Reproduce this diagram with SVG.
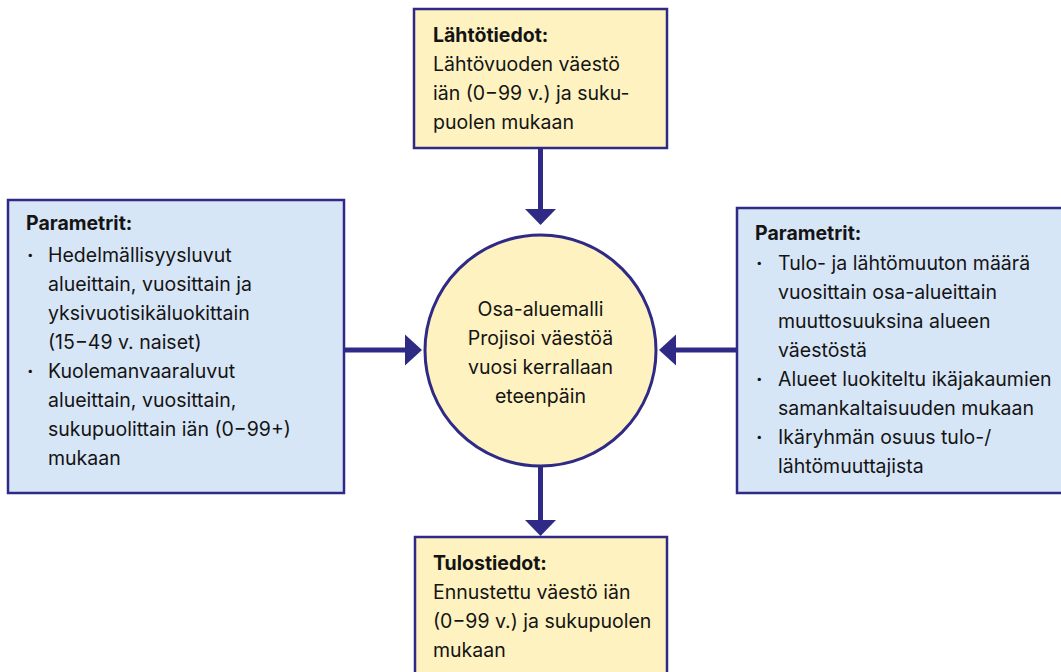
<svg xmlns="http://www.w3.org/2000/svg" width="1061" height="672" viewBox="0 0 1061 672">
<style>
.y{fill:#fdf2c0;stroke:#2f2a85;stroke-width:2.5}
.b{fill:#d7e6f7;stroke:#2f2a85;stroke-width:2.5}
.c{fill:#fdf2c0;stroke:#2f2a85;stroke-width:3}
text{font-family:Inter,"Liberation Sans",sans-serif;font-size:19.5px;fill:#141414}
.h{font-weight:700}
.d{font-weight:700}
.m{text-anchor:middle}
.ln{stroke:#2f2a85;stroke-width:5;fill:none}
.ah{fill:#2f2a85}
</style>
<rect width="1061" height="672" fill="#ffffff"/>
<g id="connectors">
<line class="ln" x1="540.5" y1="148" x2="540.5" y2="212"/>
<polygon class="ah" points="525,209 556,209 540.5,225"/>
<line class="ln" x1="540.5" y1="466" x2="540.5" y2="523"/>
<polygon class="ah" points="525,520 556,520 540.5,536"/>
<line class="ln" x1="344" y1="350" x2="408" y2="350"/>
<polygon class="ah" points="405,334.5 405,365.5 422,350"/>
<line class="ln" x1="737" y1="350" x2="673" y2="350"/>
<polygon class="ah" points="676,334.5 676,365.5 659,350"/>
</g>
<g id="top">
<rect class="y" x="414" y="9" width="253" height="139"/>
<text class="h" x="433" y="42">Lähtötiedot:</text>
<text x="433" y="71">Lähtövuoden väestö</text>
<text x="433" y="100">iän (0−99 v.) ja suku-</text>
<text x="433" y="129">puolen mukaan</text>
</g>
<g id="center">
<circle class="c" cx="540.5" cy="350.5" r="115.5"/>
<text class="m" x="540.5" y="316">Osa-aluemalli</text>
<text class="m" x="540.5" y="345">Projisoi väestöä</text>
<text class="m" x="540.5" y="374">vuosi kerrallaan</text>
<text class="m" x="540.5" y="403">eteenpäin</text>
</g>
<g id="left">
<rect class="b" x="8" y="200" width="336" height="293"/>
<text class="h" x="26" y="230">Parametrit:</text>
<text class="d" x="27" y="262">·</text>
<text x="48" y="262">Hedelmällisyysluvut</text>
<text x="48" y="291">alueittain, vuosittain ja</text>
<text x="48" y="320">yksivuotisikäluokittain</text>
<text x="48" y="349">(15−49 v. naiset)</text>
<text class="d" x="27" y="378">·</text>
<text x="48" y="378">Kuolemanvaaraluvut</text>
<text x="48" y="407">alueittain, vuosittain,</text>
<text x="48" y="436">sukupuolittain iän (0−99+)</text>
<text x="48" y="465">mukaan</text>
</g>
<g id="right">
<rect class="b" x="737" y="208" width="330" height="285"/>
<text class="h" x="755" y="240">Parametrit:</text>
<text class="d" x="756" y="270">·</text>
<text x="778" y="270">Tulo- ja lähtömuuton määrä</text>
<text x="778" y="299">vuosittain osa-alueittain</text>
<text x="778" y="328">muuttosuuksina alueen</text>
<text x="778" y="357">väestöstä</text>
<text class="d" x="756" y="386">·</text>
<text x="778" y="386">Alueet luokiteltu ikäjakaumien</text>
<text x="778" y="415">samankaltaisuuden mukaan</text>
<text class="d" x="756" y="444">·</text>
<text x="778" y="444">Ikäryhmän osuus tulo-/</text>
<text x="778" y="473">lähtömuuttajista</text>
</g>
<g id="bottom">
<rect class="y" x="415" y="537" width="252" height="150"/>
<text class="h" x="433" y="570">Tulostiedot:</text>
<text x="433" y="599">Ennustettu väestö iän</text>
<text x="433" y="628">(0−99 v.) ja sukupuolen</text>
<text x="433" y="657">mukaan</text>
</g>
</svg>
